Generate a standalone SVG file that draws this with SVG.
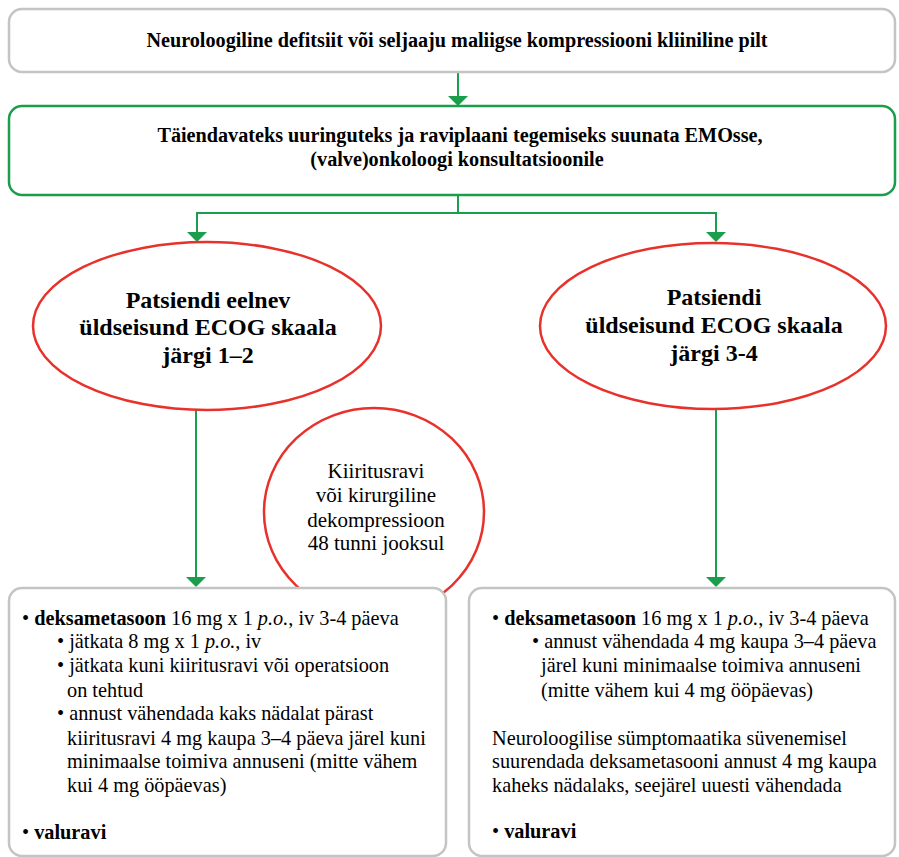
<svg xmlns="http://www.w3.org/2000/svg" width="899" height="857" viewBox="0 0 899 857">
<style>
.gbox{fill:#fff;stroke:#c4c4c4;stroke-width:2.5}
.grn{fill:#fff;stroke:#1a9e4b;stroke-width:2.5}
.ell{fill:#fff;stroke:#e8312a;stroke-width:2.5}
.con{fill:none;stroke:#1a9e4b;stroke-width:2}
.ah{fill:#1a9e4b}
.t{font-family:"Liberation Serif","Times New Roman",serif;fill:#000}
.hb{font-size:20.2px;font-weight:bold;text-anchor:middle}
.eb{font-size:24px;font-weight:bold;text-anchor:middle}
.er{font-size:21px;text-anchor:middle}
.bt{font-size:20.3px}
</style>
<g id="connectors">
<line class="con" x1="458" y1="72" x2="458" y2="96"/><path class="ah" d="M448,96 L468,96 L458,106 Z"/>
<polyline class="con" points="458,195 458,213 197,213 197,232"/><path class="ah" d="M187,232 L207,232 L197,242 Z"/>
<polyline class="con" points="458,213 716,213 716,232"/><path class="ah" d="M706,232 L726,232 L716,242 Z"/>
<line class="con" x1="196" y1="410" x2="196" y2="577"/><path class="ah" d="M186,577 L206,577 L196,587 Z"/>
<line class="con" x1="716" y1="409" x2="716" y2="577"/><path class="ah" d="M706,577 L726,577 L716,587 Z"/>
</g>
<g id="n1">
<rect class="gbox" x="9" y="9" width="886" height="63" rx="13"/>
<text class="t hb" x="457" y="47">Neuroloogiline defitsiit või seljaaju maliigse kompressiooni kliiniline pilt</text>
</g>
<g id="n2">
<rect class="grn" x="9" y="106" width="886" height="89" rx="13"/>
<text class="t hb" x="460" y="142">Täiendavateks uuringuteks ja raviplaani tegemiseks suunata EMOsse,</text>
<text class="t hb" x="457" y="166">(valve)onkoloogi konsultatsioonile</text>
</g>
<g id="n3">
<ellipse class="ell" cx="207" cy="326" rx="174" ry="84"/>
<text class="t eb" x="208" y="307.5">Patsiendi eelnev</text>
<text class="t eb" x="208" y="335">üldseisund ECOG skaala</text>
<text class="t eb" x="208" y="362.5">järgi 1–2</text>
</g>
<g id="n4">
<ellipse class="ell" cx="713" cy="326" rx="173" ry="83"/>
<text class="t eb" x="714" y="305">Patsiendi</text>
<text class="t eb" x="714" y="333">üldseisund ECOG skaala</text>
<text class="t eb" x="714" y="361">järgi 3-4</text>
</g>
<g id="n5">
<ellipse class="ell" cx="374" cy="512" rx="110" ry="104"/>
<text class="t er" x="376" y="478">Kiiritusravi</text>
<text class="t er" x="376" y="502">või kirurgiline</text>
<text class="t er" x="376" y="527">dekompressioon</text>
<text class="t er" x="376" y="550">48 tunni jooksul</text>
</g>
<g id="n6">
<rect class="gbox" x="9" y="588" width="437" height="268" rx="13"/>
<text class="t bt" x="22" y="625">• <tspan font-weight="bold">deksametasoon</tspan> 16 mg x 1 <tspan font-style="italic">p.o.</tspan>, iv 3-4 päeva</text>
<text class="t bt" x="57" y="648">• jätkata 8 mg x 1 <tspan font-style="italic">p.o.</tspan>, iv</text>
<text class="t bt" x="57" y="672">• jätkata kuni kiiritusravi või operatsioon</text>
<text class="t bt" x="67" y="697">on tehtud</text>
<text class="t bt" x="57" y="720">• annust vähendada kaks nädalat pärast</text>
<text class="t bt" x="67" y="745">kiiritusravi 4 mg kaupa 3–4 päeva järel kuni</text>
<text class="t bt" x="67" y="768">minimaalse toimiva annuseni (mitte vähem</text>
<text class="t bt" x="67" y="792">kui 4 mg ööpäevas)</text>
<text class="t bt" x="22" y="839">• <tspan font-weight="bold">valuravi</tspan></text>
</g>
<g id="n7">
<rect class="gbox" x="469" y="588" width="426" height="268" rx="13"/>
<text class="t bt" x="492" y="625">• <tspan font-weight="bold">deksametasoon</tspan> 16 mg x 1 <tspan font-style="italic">p.o.</tspan>, iv 3-4 päeva</text>
<text class="t bt" x="532" y="648">• annust vähendada 4 mg kaupa 3–4 päeva</text>
<text class="t bt" x="541" y="672">järel kuni minimaalse toimiva annuseni</text>
<text class="t bt" x="541" y="697">(mitte vähem kui 4 mg ööpäevas)</text>
<text class="t bt" x="492" y="745">Neuroloogilise sümptomaatika süvenemisel</text>
<text class="t bt" x="492" y="768">suurendada deksametasooni annust 4 mg kaupa</text>
<text class="t bt" x="492" y="792">kaheks nädalaks, seejärel uuesti vähendada</text>
<text class="t bt" x="492" y="838">• <tspan font-weight="bold">valuravi</tspan></text>
</g>
</svg>
